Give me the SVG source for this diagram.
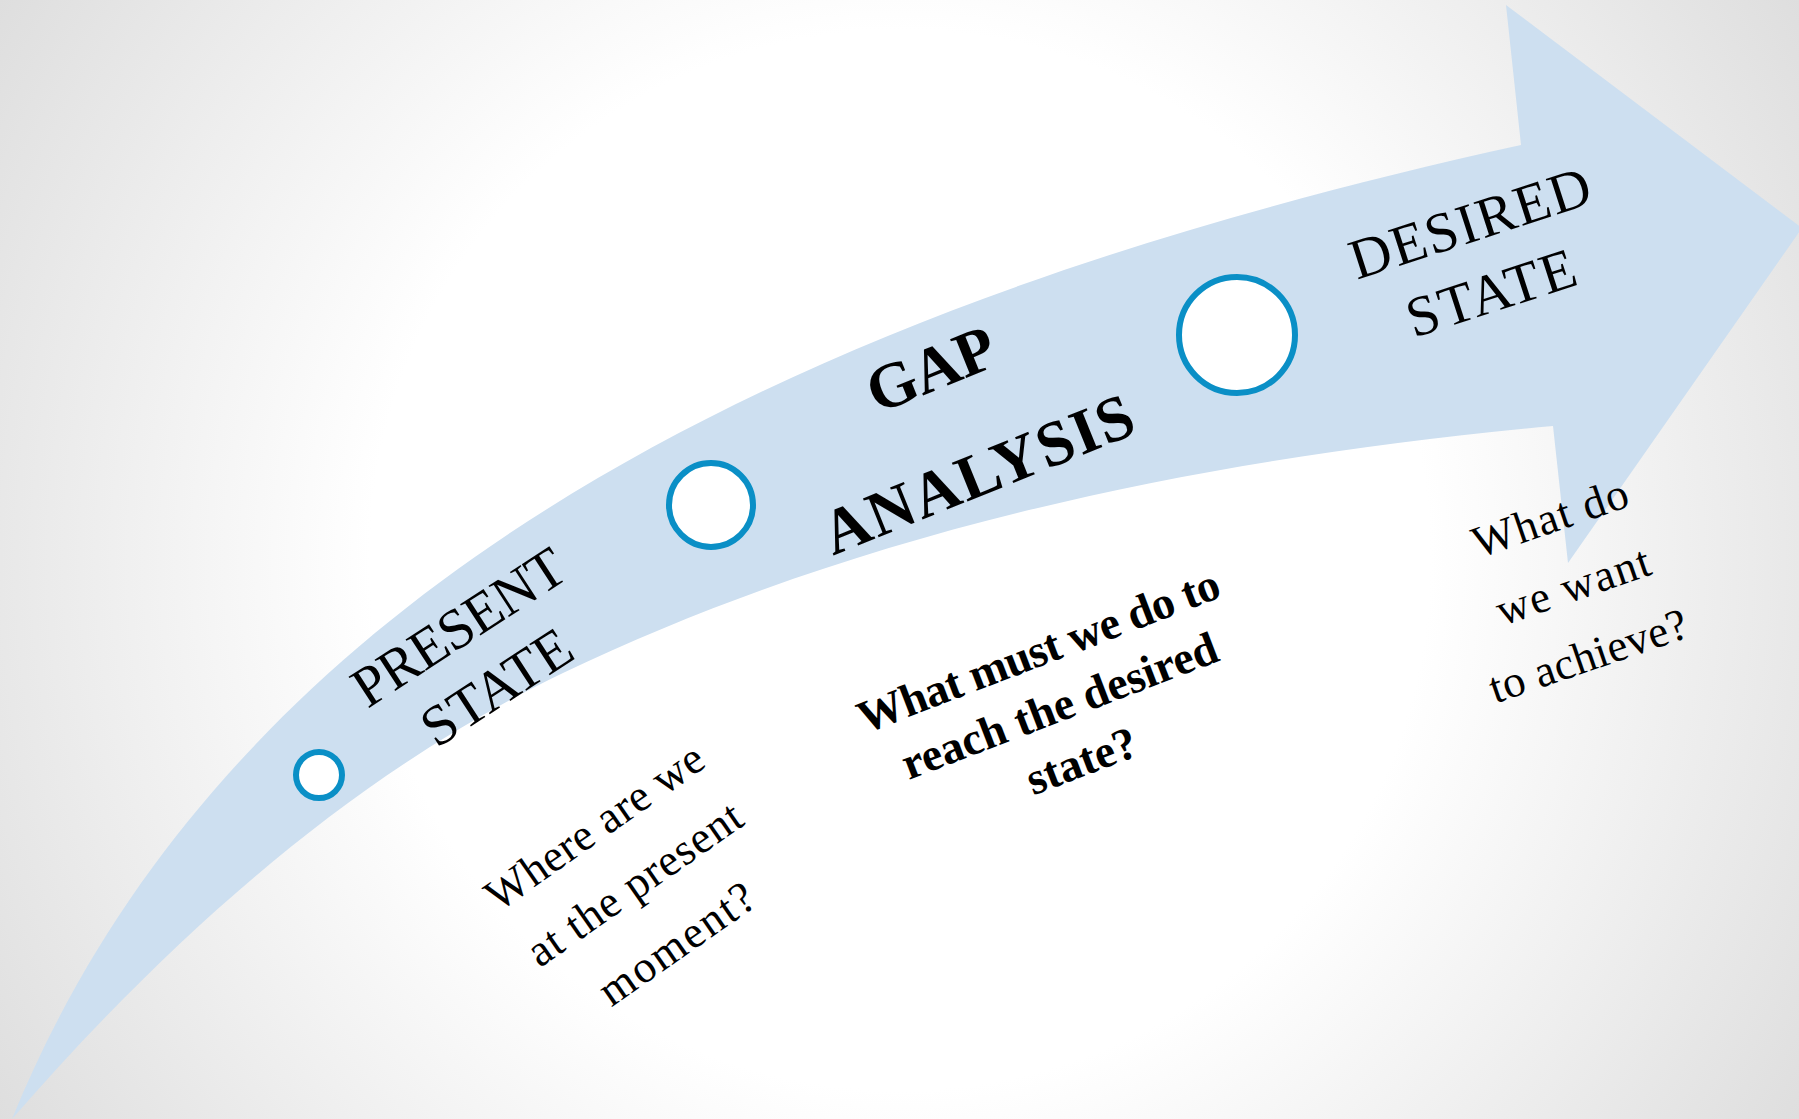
<svg xmlns="http://www.w3.org/2000/svg" width="1799" height="1119" viewBox="0 0 1799 1119">
  <defs>
    <radialGradient id="bg" gradientUnits="userSpaceOnUse" cx="900" cy="560" r="1060">
      <stop offset="0" stop-color="#ffffff"/>
      <stop offset="0.5" stop-color="#ffffff"/>
      <stop offset="1" stop-color="#dedede"/>
    </radialGradient>
    <style>
      .arrow { fill: #cddff0; }
      .dot { fill: #ffffff; stroke: #0a8fc6; stroke-width: 6; }
      .title { font-family: "Liberation Serif", "Times New Roman", serif; font-size: 57px; fill: #000; text-anchor: middle; }
      .title-b { font-family: "Liberation Serif", "Times New Roman", serif; font-size: 64px; font-weight: bold; fill: #000; text-anchor: middle; }
      .q { font-family: "Liberation Serif", "Times New Roman", serif; font-size: 45px; fill: #000; text-anchor: middle; }
      .q-b { font-family: "Liberation Serif", "Times New Roman", serif; font-size: 46px; font-weight: bold; fill: #000; text-anchor: middle; }
    </style>
  </defs>

  <!-- backdrop -->
  <rect x="0" y="0" width="1799" height="1119" fill="url(#bg)"/>

  <!-- curved arrow -->
  <g id="connectors">
    <path class="arrow" d="M12,1119 C238,563 838,295 1521,145 L1506,5 L1802,228 L1568,563 L1553,426 C1214,457 870,526 563,673 C350,775 167,941 12,1119 Z"/>
  </g>

  <!-- stage: present -->
  <g id="present-state">
    <circle class="dot" cx="319" cy="775" r="23"/>
    <text class="title" transform="translate(469,643) rotate(-33)" textLength="242" lengthAdjust="spacing">PRESENT</text>
    <text class="title" transform="translate(507,703) rotate(-33)" textLength="168" lengthAdjust="spacing">STATE</text>
    <text class="q" transform="translate(603,839) rotate(-35)" textLength="256" lengthAdjust="spacing">Where are we</text>
    <text class="q" transform="translate(643,896) rotate(-35)" textLength="252" lengthAdjust="spacing">at the present</text>
    <text class="q" transform="translate(685,956) rotate(-35)" textLength="180" lengthAdjust="spacing">moment?</text>
  </g>

  <!-- stage: gap analysis -->
  <g id="gap-analysis">
    <circle class="dot" cx="711" cy="505" r="42"/>
    <text class="title-b" transform="translate(939,389) rotate(-22)" textLength="134" lengthAdjust="spacing">GAP</text>
    <text class="title-b" transform="translate(986,494) rotate(-22)" textLength="330" lengthAdjust="spacing">ANALYSIS</text>
    <text class="q-b" transform="translate(1044,665) rotate(-21)" textLength="384" lengthAdjust="spacing">What must we do to</text>
    <text class="q-b" transform="translate(1065,720) rotate(-21)" textLength="335" lengthAdjust="spacing">reach the desired</text>
    <text class="q-b" transform="translate(1087,775) rotate(-21)">state?</text>
  </g>

  <!-- stage: desired -->
  <g id="desired-state">
    <circle class="dot" cx="1237" cy="335" r="58"/>
    <text class="title" transform="translate(1476,241) rotate(-18)" textLength="250" lengthAdjust="spacing">DESIRED</text>
    <text class="title" transform="translate(1497,311) rotate(-18)" textLength="175" lengthAdjust="spacing">STATE</text>
    <text class="q" transform="translate(1555,532) rotate(-19)" textLength="162" lengthAdjust="spacing">What do</text>
    <text class="q" transform="translate(1578,600) rotate(-19)" textLength="160" lengthAdjust="spacing">we want</text>
    <text class="q" transform="translate(1593,670) rotate(-19)" textLength="207" lengthAdjust="spacing">to achieve?</text>
  </g>
</svg>
